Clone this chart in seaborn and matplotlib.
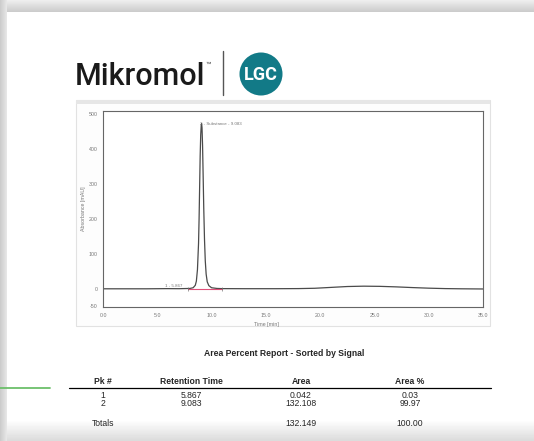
import numpy as np
import pandas as pd
import matplotlib
matplotlib.use("Agg")
import matplotlib.pyplot as plt
import seaborn as sns
from matplotlib.patches import Circle, Rectangle
from matplotlib.ticker import MultipleLocator

# ---------------- data ----------------
time_min = [0.0, 2.0, 4.0, 5.867, 7.0, 8.0, 8.3, 8.5, 8.6, 8.7, 8.8, 8.85, 8.9, 8.95,
            9.0, 9.05, 9.083, 9.12, 9.17, 9.22, 9.28, 9.35, 9.42, 9.5, 9.6, 9.75,
            10.0, 10.5, 11.0, 13.0, 16.0, 18.0, 19.5, 21.0, 22.5, 24.0, 25.5, 27.0,
            28.5, 30.0, 31.5, 33.0, 35.0]
absorbance = [0.0, 0.0, 0.0, 0.5, 0.3, 1.0, 3.0, 10.0, 22.0, 55.0, 130.0, 200.0, 290.0, 380.0,
              440.0, 468.0, 472.0, 460.0, 410.0, 330.0, 230.0, 140.0, 80.0, 42.0, 20.0, 9.0,
              3.0, 1.0, 0.5, 0.3, 0.3, 0.6, 1.5, 4.0, 6.5, 7.5, 7.0, 5.5,
              3.5, 1.8, 0.6, 0.0, -0.5]

x_ticks = [0.0, 5.0, 10.0, 15.0, 20.0, 25.0, 30.0, 35.0]
y_ticks = [-50, 0, 100, 200, 300, 400, 500]
baseline_times = [7.8, 11.0]
peak_labels = ["1 - 5.867", "2 - Substance - 9.083"]
peak_label_times = [5.75, 8.95]
peak_label_heights = [9, 470]

report_title = "Area Percent Report - Sorted by Signal"
table_headers = ["Pk #", "Retention Time", "Area", "Area %"]
peak_numbers = ["1", "2"]
retention_times = ["5.867", "9.083"]
areas = ["0.042", "132.108"]
area_pcts = ["0.03", "99.97"]
totals_row = ["Totals", "", "132.149", "100.00"]

# ---------------- figure ----------------
sns.set_style("white")
plt.rcParams["font.family"] = ["Liberation Sans", "DejaVu Sans"]

W, H = 534, 441
fig = plt.figure(figsize=(W / 100, H / 100), dpi=100)
fig.patch.set_facecolor("white")

bg = fig.add_axes([0, 0, 1, 1])
bg.set_xlim(0, W)
bg.set_ylim(H, 0)
bg.axis("off")

# page shadows
top_grad = np.linspace(0.93, 0.80, 12).reshape(-1, 1)
bg.imshow(top_grad, extent=[0, W, 12, 0], cmap="gray", vmin=0, vmax=1, aspect="auto", zorder=0)
left_grad = np.linspace(0.80, 0.90, 7).reshape(1, -1)
bg.imshow(left_grad, extent=[0, 7, H, 0], cmap="gray", vmin=0, vmax=1, aspect="auto", zorder=0)
bot_grad = np.linspace(0.99, 0.86, 20).reshape(-1, 1)
bg.imshow(bot_grad, extent=[7, W, H, 421], cmap="gray", vmin=0, vmax=1, aspect="auto", zorder=0)
bg.add_patch(Rectangle((7, 12), W - 7, 409, facecolor="white", edgecolor="none", zorder=0.5))

# logo
bg.text(75, 85, "Mikromol", fontsize=22, family="Roboto", fontweight="medium", color="#1a1a1a",
        ha="left", va="baseline", zorder=2)
bg.text(206, 66, "™", fontsize=4, color="#333", ha="left", va="baseline", zorder=2)
bg.plot([223, 223], [51, 95], color="#555", lw=1, zorder=2)
bg.add_patch(Circle((261, 74), 21.5, facecolor="#127a87", edgecolor="none", zorder=2))
bg.text(261, 75, "LGC", fontsize=13, family="Roboto", fontweight="bold", color="white",
        ha="center", va="center", zorder=3)

# chart image frame
bg.add_patch(Rectangle((76, 100), 414, 226, facecolor="#fdfdfd", edgecolor="#e2e2e2", lw=0.8, zorder=1))
bg.add_patch(Rectangle((76, 100), 414, 4, facecolor="#e6e6e6", edgecolor="none", zorder=1))

# green line
bg.plot([0, 50], [388, 388], color="#6cbf6a", lw=1.3, zorder=2)

# table
bg.text(284, 354, report_title, fontsize=6.2, fontweight="bold", ha="center", va="center", zorder=2)
col_x = [103, 191, 301, 410]
for x, h in zip(col_x, table_headers):
    bg.text(x, 381, h, fontsize=6.2, fontweight="bold", ha="center", va="center", zorder=2)
bg.plot([69, 491], [388, 388], color="black", lw=0.9, zorder=2)
for row_y, row in zip([395, 403], zip(peak_numbers, retention_times, areas, area_pcts)):
    for x, v in zip(col_x, row):
        bg.text(x, row_y, v, fontsize=6.2, ha="center", va="center", zorder=2)
for x, v in zip(col_x, totals_row):
    bg.text(x, 424, v, fontsize=6.2, ha="center", va="center", zorder=2)

# chromatogram
ax = fig.add_axes([103 / W, 1 - 307 / H, 380 / W, 196 / H])
ax.set_facecolor("white")
df = pd.DataFrame({"Time [min]": time_min, "Absorbance [mAU]": absorbance})
sns.lineplot(data=df, x="Time [min]", y="Absorbance [mAU]", ax=ax, color="#4a4a4a", lw=0.9,
             estimator=None, sort=False)
ax.plot(baseline_times, [0, 0], color="#e0507a", lw=0.8)
ax.plot(baseline_times, [0, 0], ls="none", marker="|", ms=3, mew=0.5, color="#777")
for t, hgt, lab in zip(peak_label_times, peak_label_heights, peak_labels):
    ax.text(t, hgt, lab, fontsize=3.2, color="#777", ha="left", va="center")

ax.set_xlim(0, 35)
ax.set_ylim(-52, 508)
ax.set_xticks(x_ticks)
ax.set_xticklabels([f"{v:.1f}" for v in x_ticks])
ax.set_yticks(y_ticks)
ax.set_yticklabels([str(v) for v in y_ticks])
ax.xaxis.set_minor_locator(MultipleLocator(1))
ax.yaxis.set_minor_locator(MultipleLocator(20))
ax.tick_params(axis="both", which="major", direction="out", length=2.5, width=0.5,
               colors="#666", labelsize=3.8, labelcolor="#777", pad=1.5)
ax.tick_params(axis="both", which="minor", direction="out", length=1.3, width=0.4, colors="#888")
for s in ax.spines.values():
    s.set_color("#666")
    s.set_linewidth(0.8)
ax.set_xlabel("Time [min]", fontsize=3.8, color="#777", labelpad=1)
ax.xaxis.set_label_coords(0.43, -0.075)
ax.set_ylabel("Absorbance [mAU]", fontsize=3.8, color="#777", labelpad=2)
ax.grid(False)

fig.savefig("out.png", dpi=100)
